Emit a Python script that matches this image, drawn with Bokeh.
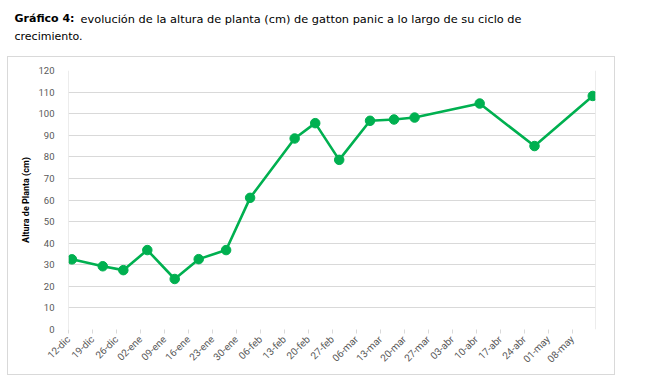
import math
import pandas as pd
from bokeh.plotting import figure
from bokeh.layouts import column
from bokeh.models import FixedTicker, Range1d, Span, ColumnDataSource
from bokeh.core.properties import value
from bokeh.embed import file_html
from bokeh.resources import INLINE

# ---- data ----
fecha_inicio = "2020-12-12"
fechas = ["2020-12-13", "2020-12-22", "2020-12-28", "2021-01-04", "2021-01-12",
          "2021-01-19", "2021-01-27", "2021-02-03", "2021-02-16", "2021-02-22",
          "2021-03-01", "2021-03-10", "2021-03-17", "2021-03-23", "2021-04-11",
          "2021-04-27", "2021-05-14"]
altura = [32.5, 29.3, 27.5, 36.8, 23.4, 32.6, 36.8, 61.0, 88.5, 95.6,
          78.6, 96.7, 97.3, 98.2, 104.7, 85.0, 108.2]
tick_labels = ["12-dic", "19-dic", "26-dic", "02-ene", "09-ene", "16-ene",
               "23-ene", "30-ene", "06-feb", "13-feb", "20-feb", "27-feb",
               "06-mar", "13-mar", "20-mar", "27-mar", "03-abr", "10-abr",
               "17-abr", "24-abr", "01-may", "08-may"]
y_ticks = list(range(0, 121, 10))
titulo_bold = "Gráfico 4:"
titulo_resto = "evolución de la altura de planta (cm) de gatton panic a lo largo de su ciclo de"
titulo_linea2 = "crecimiento."
eje_y = "Altura de Planta (cm)"

t0 = pd.Timestamp(fecha_inicio)
dias = [(pd.Timestamp(f) - t0).days for f in fechas]
tick_pos = [7 * i for i in range(len(tick_labels))]

GREEN = "#00B050"
GRID = "#d9d9d9"
LABEL = "#595959"

# ---------------- title block ----------------
TW, TH = 640, 56
t = figure(width=TW, height=TH, output_backend="svg", toolbar_location=None,
           x_range=Range1d(0, TW), y_range=Range1d(TH, 0),
           min_border=0, min_border_left=0, min_border_right=0,
           min_border_top=0, min_border_bottom=0)
t.frame_align = False
t.axis.visible = False
t.grid.visible = False
t.outline_line_color = None
t.text(x=[14], y=[18], text=[titulo_bold], text_font=value("DejaVu Sans"),
       text_font_size="11px", text_font_style="bold",
       text_baseline="alphabetic", text_color="#000000")
t.text(x=[80], y=[18], text=[titulo_resto], text_font=value("DejaVu Sans"),
       text_font_size="11.35px", text_baseline="alphabetic",
       text_color="#000000")
t.text(x=[14], y=[36], text=[titulo_linea2], text_font=value("DejaVu Sans"),
       text_font_size="11px", text_baseline="alphabetic",
       text_color="#000000")

# ---------------- chart ----------------
src = ColumnDataSource(dict(x=dias, y=altura))

p = figure(width=608, height=319, output_backend="svg", toolbar_location=None,
           x_range=Range1d(0, 153.8), y_range=Range1d(0, 120),
           min_border_left=60, min_border_right=21, min_border_top=13,
           min_border_bottom=47)
p.frame_align = False
p.margin = (0, 0, 0, 7)
p.styles = {"border": "1px solid #d9d9d9"}
p.outline_line_color = None

p.xgrid.visible = False
p.ygrid.ticker = FixedTicker(ticks=y_ticks[1:])
p.ygrid.grid_line_color = GRID
p.ygrid.grid_line_width = 1

p.yaxis.ticker = FixedTicker(ticks=y_ticks)
p.yaxis.axis_line_color = None
p.yaxis.major_tick_line_color = None
p.yaxis.minor_tick_line_color = None
p.yaxis.major_label_text_font = "Roboto"
p.yaxis.major_label_text_font_size = "9.5px"
p.yaxis.major_label_text_color = LABEL
p.yaxis.major_label_standoff = 8
p.yaxis.axis_label = eje_y
p.yaxis.axis_label_text_font = "Roboto"
p.yaxis.axis_label_text_font_size = "9px"
p.yaxis.axis_label_text_font_style = "bold"
p.yaxis.axis_label_text_color = "#000000"
p.yaxis.axis_label_standoff = 4

p.xaxis.ticker = FixedTicker(ticks=tick_pos)
p.xaxis.major_label_overrides = {tp: l for tp, l in zip(tick_pos, tick_labels)}
p.xaxis.major_label_orientation = math.pi / 4
p.xaxis.axis_line_color = None
p.xaxis.major_tick_line_color = GRID
p.xaxis.major_tick_out = 4
p.xaxis.major_tick_in = 0
p.xaxis.minor_tick_line_color = None
p.xaxis.major_label_text_font = "Roboto"
p.xaxis.major_label_text_font_size = "10px"
p.xaxis.major_label_text_color = LABEL
p.xaxis.major_label_standoff = 4

p.add_layout(Span(location=0, dimension="height", line_color=GRID, line_width=1))
p.add_layout(Span(location=153.8, dimension="height", line_color=GRID, line_width=1))

p.line("x", "y", source=src, line_color=GREEN, line_width=2.6)
p.scatter("x", "y", source=src, size=9.5, fill_color=GREEN, line_color=GREEN)

layout = column(t, p, spacing=0)
open("out.html", "w").write(file_html(layout, INLINE))
